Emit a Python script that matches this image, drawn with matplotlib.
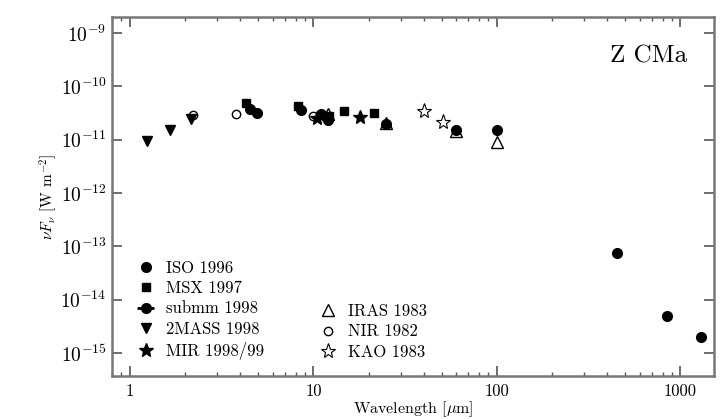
import numpy as np
import matplotlib.pyplot as plt
from matplotlib.ticker import FixedLocator, FixedFormatter, LogLocator, NullFormatter

plt.rcParams['font.family'] = 'serif'
plt.rcParams['font.serif'] = ['cmr10', 'DejaVu Serif']
plt.rcParams['mathtext.fontset'] = 'cm'
plt.rcParams['axes.formatter.use_mathtext'] = True

# photometry of Z CMa, wavelength in micron, flux nu F_nu in W m^-2
iso_wl = [4.5, 4.9, 8.6, 11.0, 12.0, 25.0, 60.0, 100.0]
iso_f = [3.7e-11, 3.2e-11, 3.6e-11, 3.0e-11, 2.3e-11, 2.0e-11, 1.5e-11, 1.5e-11]

msx_wl = [4.29, 8.28, 12.13, 14.65, 21.34]
msx_f = [4.8e-11, 4.3e-11, 2.8e-11, 3.4e-11, 3.2e-11]

submm_wl = [450.0, 850.0, 1300.0]
submm_f = [7.6e-14, 5.0e-15, 1.95e-15]

tmass_wl = [1.24, 1.66, 2.16]
tmass_f = [9.5e-12, 1.55e-11, 2.5e-11]

mir_wl = [10.5, 17.9]
mir_f = [2.6e-11, 2.7e-11]

iras_wl = [12.0, 25.0, 60.0, 100.0]
iras_f = [3.0e-11, 2.1e-11, 1.45e-11, 9.2e-12]

nir_wl = [2.2, 3.8, 10.0]
nir_f = [2.9e-11, 3.1e-11, 2.8e-11]

kao_wl = [40.0, 51.0]
kao_f = [3.4e-11, 2.2e-11]

yticks = [1e-15, 1e-14, 1e-13, 1e-12, 1e-11, 1e-10, 1e-9]
ytick_labels = [r'$10^{-15}$', r'$10^{-14}$', r'$10^{-13}$', r'$10^{-12}$',
                r'$10^{-11}$', r'$10^{-10}$', r'$10^{-9}$']
xticks = [1, 10, 100, 1000]
xtick_labels = ['1', '10', '100', '1000']

fig = plt.figure(figsize=(7.28, 4.19), dpi=100)
ax = fig.add_axes([0.154, 0.103, 0.827, 0.856])
ax.set_xscale('log')
ax.set_yscale('log')

ms = 7
h_iso, = ax.plot(iso_wl, iso_f, 'o', color='k', ms=ms, ls='none', label='ISO 1996')
h_msx, = ax.plot(msx_wl, msx_f, 's', color='k', ms=ms - 1, ls='none', label='MSX 1997')
h_sub = ax.errorbar(submm_wl, submm_f, xerr=[np.array(submm_wl) * 0.06, np.array(submm_wl) * 0.06],
                    fmt='o', color='k', ms=ms, elinewidth=2, capsize=0, label='submm 1998')
h_2m, = ax.plot(tmass_wl, tmass_f, 'v', color='k', ms=ms, ls='none', label='2MASS 1998')
h_mir, = ax.plot(mir_wl, mir_f, '*', color='k', ms=ms + 3, ls='none', label='MIR 1998/99')
h_iras, = ax.plot(iras_wl, iras_f, '^', mfc='none', mec='k', mew=1.0, ms=ms + 1, ls='none', label='IRAS 1983')
h_nir, = ax.plot(nir_wl, nir_f, 'o', mfc='none', mec='k', mew=1.0, ms=ms - 1, ls='none', label='NIR 1982')
h_kao, = ax.plot(kao_wl, kao_f, '*', mfc='none', mec='k', mew=0.8, ms=ms + 4, ls='none', label='KAO 1983')

ax.set_xlim(0.8, 1530)
ax.set_ylim(10**-15.43, 10**-8.7)

ax.xaxis.set_major_locator(FixedLocator(xticks))
ax.xaxis.set_major_formatter(FixedFormatter(xtick_labels))
ax.xaxis.set_minor_locator(LogLocator(base=10, subs=np.arange(2, 10)))
ax.xaxis.set_minor_formatter(NullFormatter())
ax.yaxis.set_major_locator(FixedLocator(yticks))
ax.yaxis.set_major_formatter(FixedFormatter(ytick_labels))
ax.yaxis.set_minor_locator(FixedLocator([]))

ax.tick_params(which='both', direction='in', top=True, right=True, color='#555555')
ax.tick_params(axis='x', labelsize=12, pad=6)
ax.tick_params(axis='y', labelsize=14, pad=4)
ax.tick_params(which='major', length=7, width=1.2)
ax.tick_params(which='minor', length=3, width=1.0)
for sp in ax.spines.values():
    sp.set_color('#777777')
    sp.set_linewidth(1.8)

ax.set_xlabel(r'Wavelength [$\mu$m]', fontsize=11.5, labelpad=0)
ax.set_ylabel(r'$\nu F_\nu$ [W m$^{-2}$]', fontsize=11, labelpad=1)

ax.text(0.955, 0.89, 'Z CMa', transform=ax.transAxes, ha='right', va='center', fontsize=18)

leg_kw = dict(loc='lower left', frameon=False, fontsize=12, handlelength=1.0,
              handletextpad=0.7, labelspacing=0.3, borderaxespad=0, borderpad=0)
leg1 = ax.legend(handles=[h_iso, h_msx, h_sub, h_2m, h_mir], bbox_to_anchor=(0.042, 0.045), **leg_kw)
ax.add_artist(leg1)
ax.legend(handles=[h_iras, h_nir, h_kao], bbox_to_anchor=(0.345, 0.045), **leg_kw)

fig.savefig('out.png', dpi=100)
